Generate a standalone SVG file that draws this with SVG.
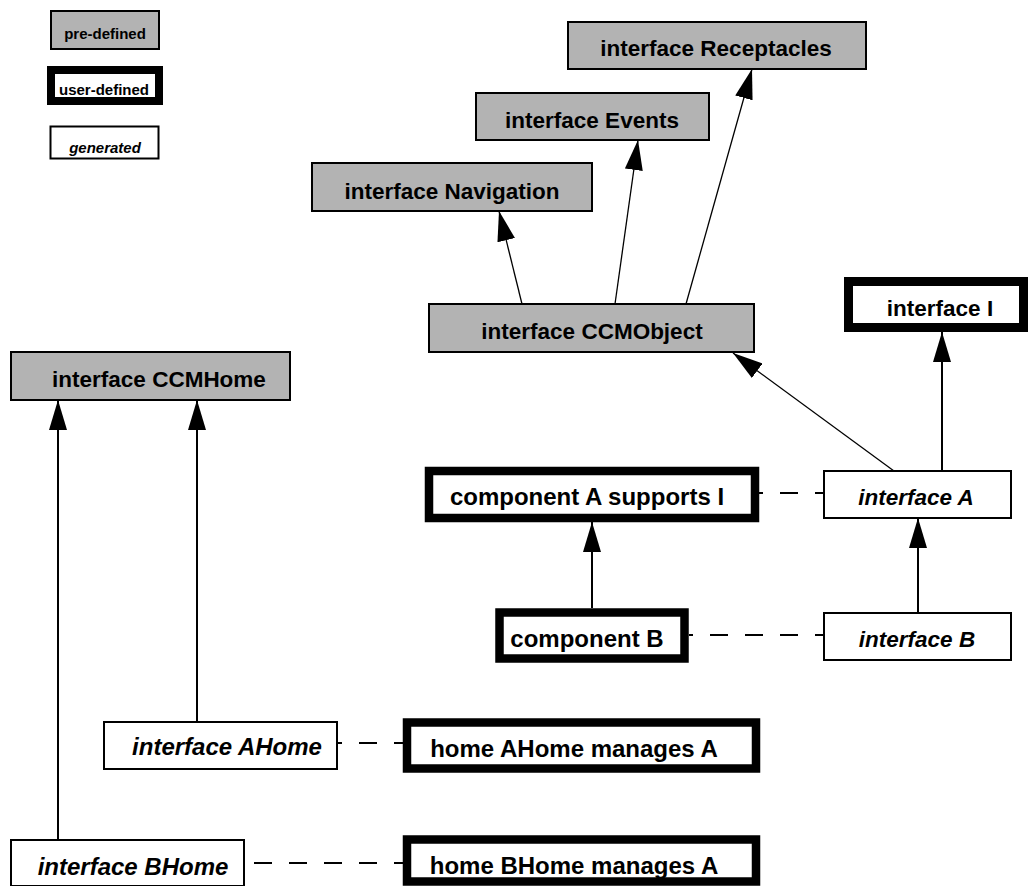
<svg xmlns="http://www.w3.org/2000/svg" width="1028" height="886" viewBox="0 0 1028 886">
<style>
.pre{fill:#b3b3b3;stroke:#000;stroke-width:2}
.gen{fill:#fff;stroke:#000;stroke-width:2}
.usr{fill:#fff;stroke:#000;stroke-width:8.5}
text{font-family:"Liberation Sans",Arial,Helvetica,sans-serif;font-weight:bold;fill:#000;text-anchor:middle}
.it{font-style:italic}
.t22{font-size:22.5px}
.t24{font-size:24px}
.lg{font-size:15px}
.thin{fill:none;stroke:#000;stroke-width:1.3;marker-end:url(#ah)}
.solid{fill:none;stroke:#000;stroke-width:2;marker-end:url(#ah)}
.dash{fill:none;stroke:#000;stroke-width:2;stroke-dasharray:18 17;stroke-dashoffset:9}
</style>
<defs>
<marker id="ah" markerUnits="userSpaceOnUse" markerWidth="30" markerHeight="18" refX="30" refY="9" orient="auto">
<path d="M0,0 L30,9 L0,18 z" fill="#000"/>
</marker>
</defs>
<rect width="1028" height="886" fill="#fff"/>

<g id="connectors">
<path class="thin" d="M522,304 L499,211"/>
<path class="thin" d="M615,304 L638,140"/>
<path class="thin" d="M686,304 L752,69"/>
<path class="thin" d="M894,471 L733,353"/>
<path class="solid" d="M942,471 L942,332"/>
<path class="solid" d="M918,613 L918,518"/>
<path class="solid" d="M592,608 L592,522"/>
<path class="solid" d="M197,722 L197,400"/>
<path class="solid" d="M58,840 L58,400"/>
<path class="dash" d="M824,493 L759,493"/>
<path class="dash" d="M824,635 L689,635"/>
<path class="dash" d="M403,743 L337,743"/>
<path class="dash" d="M403,863 L244,863"/>
</g>

<g id="legend-predefined">
<rect class="pre" x="51" y="11" width="108" height="38"/>
<text class="lg" x="105" y="39">pre-defined</text>
</g>
<g id="legend-userdefined">
<rect class="usr" x="51" y="70" width="108" height="31" style="stroke-width:8"/>
<text class="lg" x="104" y="95">user-defined</text>
</g>
<g id="legend-generated">
<rect class="gen" x="50.5" y="126.5" width="108" height="32"/>
<text class="lg it" x="105" y="153">generated</text>
</g>

<g id="receptacles">
<rect class="pre" x="568" y="22" width="298" height="47"/>
<text class="t22" x="716" y="56">interface Receptacles</text>
</g>
<g id="events">
<rect class="pre" x="476" y="93" width="233" height="47"/>
<text class="t22" x="592" y="128">interface Events</text>
</g>
<g id="navigation">
<rect class="pre" x="312" y="163" width="280" height="48"/>
<text class="t22" x="452" y="199">interface Navigation</text>
</g>
<g id="ccmobject">
<rect class="pre" x="429" y="304" width="325" height="48"/>
<text class="t22" x="592" y="339">interface CCMObject</text>
</g>
<g id="interface-i">
<rect class="usr" x="848.5" y="281.5" width="175" height="46" style="stroke-width:9"/>
<text class="t22" x="940" y="316">interface I</text>
</g>
<g id="ccmhome">
<rect class="pre" x="11" y="352" width="279" height="48"/>
<text class="t22" x="159" y="387">interface CCMHome</text>
</g>
<g id="component-a">
<rect class="usr" x="429" y="471" width="326" height="47"/>
<text class="t24" x="587" y="505">component A supports I</text>
</g>
<g id="interface-a">
<rect class="gen" x="824" y="471" width="187" height="47"/>
<text class="t22 it" x="916" y="505">interface A</text>
</g>
<g id="component-b">
<rect class="usr" x="499.5" y="612.5" width="185" height="46"/>
<text class="t24" x="587" y="647">component B</text>
</g>
<g id="interface-b">
<rect class="gen" x="824" y="613" width="187" height="47"/>
<text class="t22 it" x="917" y="647">interface B</text>
</g>
<g id="interface-ahome">
<rect class="gen" x="104" y="722" width="233" height="47"/>
<text class="t24 it" x="227" y="755">interface AHome</text>
</g>
<g id="home-ahome">
<rect class="usr" x="407" y="722.5" width="349" height="46"/>
<text class="t24" x="574" y="757">home AHome manages A</text>
</g>
<g id="interface-bhome">
<rect class="gen" x="11" y="840" width="233" height="46"/>
<text class="t24 it" x="133" y="875">interface BHome</text>
</g>
<g id="home-bhome">
<rect class="usr" x="407" y="839.5" width="349" height="42"/>
<text class="t24" x="574" y="874">home BHome manages A</text>
</g>
</svg>
